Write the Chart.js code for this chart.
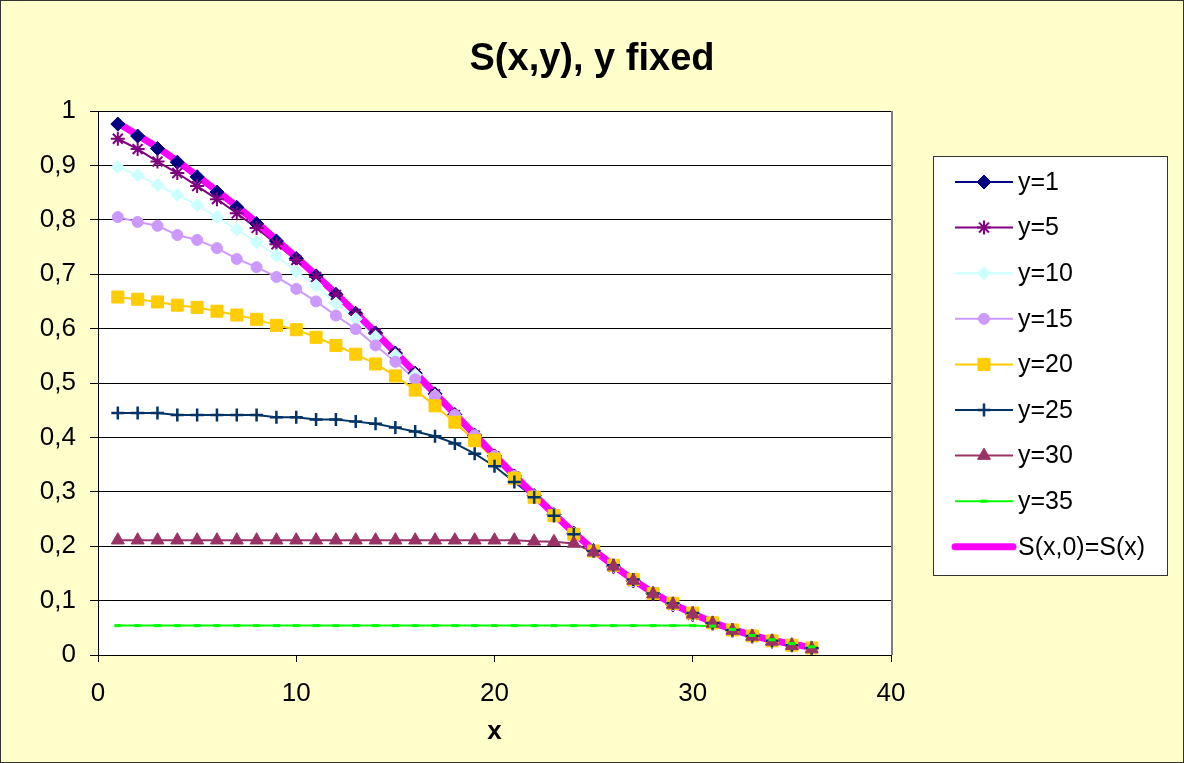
<!DOCTYPE html>
<html>
<head>
<meta charset="utf-8">
<script src="https://cdn.jsdelivr.net/npm/chart.js@4/dist/chart.umd.min.js"></script>
<style>
  html, body { margin: 0; padding: 0; background: #ffffcc; }
  canvas { display: block; }
</style>
</head>
<body>
<canvas id="sChart" width="1184" height="763"></canvas>
<script>
(function () {
  const xValues = [1, 2, 3, 4, 5, 6, 7, 8, 9, 10, 11, 12, 13, 14, 15, 16, 17, 18,
    19, 20, 21, 22, 23, 24, 25, 26, 27, 28, 29, 30, 31, 32, 33, 34, 35, 36];

  const y1 = [0.976, 0.954, 0.931, 0.906, 0.879, 0.851, 0.823, 0.793, 0.761, 0.729, 0.697, 0.663,
    0.628, 0.592, 0.555, 0.518, 0.480, 0.442, 0.404, 0.366, 0.329, 0.293, 0.258, 0.224,
    0.192, 0.163, 0.137, 0.113, 0.093, 0.075, 0.059, 0.046, 0.035, 0.026, 0.019, 0.013];
  const y5 = [0.949, 0.930, 0.907, 0.886, 0.862, 0.838, 0.812, 0.785, 0.755, 0.726, 0.695, 0.662,
    0.627, 0.591, 0.554, 0.517, 0.479, 0.441, 0.403, 0.365, 0.328, 0.292, 0.257, 0.223,
    0.191, 0.162, 0.136, 0.112, 0.092, 0.074, 0.058, 0.045, 0.034, 0.025, 0.018, 0.012];
  const y10 = [0.897, 0.882, 0.864, 0.846, 0.827, 0.805, 0.782, 0.759, 0.734, 0.705, 0.679, 0.646,
    0.618, 0.585, 0.551, 0.515, 0.477, 0.440, 0.402, 0.365, 0.328, 0.292, 0.257, 0.223,
    0.191, 0.163, 0.137, 0.113, 0.093, 0.075, 0.059, 0.046, 0.035, 0.026, 0.019, 0.013];
  const y15 = [0.805, 0.796, 0.789, 0.772, 0.763, 0.748, 0.728, 0.713, 0.695, 0.673, 0.650, 0.624,
    0.599, 0.569, 0.539, 0.507, 0.476, 0.441, 0.404, 0.366, 0.329, 0.293, 0.257, 0.223,
    0.191, 0.163, 0.137, 0.113, 0.093, 0.075, 0.059, 0.046, 0.035, 0.026, 0.019, 0.013];
  const y20 = [0.658, 0.654, 0.649, 0.643, 0.639, 0.632, 0.625, 0.617, 0.606, 0.598, 0.584, 0.569,
    0.553, 0.535, 0.513, 0.487, 0.458, 0.428, 0.394, 0.360, 0.325, 0.290, 0.256, 0.222,
    0.191, 0.165, 0.139, 0.113, 0.095, 0.077, 0.059, 0.046, 0.035, 0.026, 0.018, 0.013];
  const y25 = [0.445, 0.445, 0.445, 0.441, 0.441, 0.441, 0.441, 0.441, 0.437, 0.437, 0.433, 0.433,
    0.429, 0.425, 0.418, 0.411, 0.402, 0.389, 0.370, 0.347, 0.318, 0.290, 0.256, 0.222,
    0.191, 0.165, 0.139, 0.113, 0.095, 0.077, 0.059, 0.046, 0.035, 0.026, 0.018, 0.013];
  const y30 = [0.211, 0.211, 0.211, 0.211, 0.211, 0.211, 0.211, 0.211, 0.211, 0.211, 0.211, 0.211,
    0.211, 0.211, 0.211, 0.211, 0.211, 0.211, 0.211, 0.211, 0.211, 0.209, 0.208, 0.205,
    0.189, 0.163, 0.137, 0.112, 0.093, 0.075, 0.058, 0.045, 0.034, 0.025, 0.017, 0.011];
  const y35 = [0.054, 0.054, 0.054, 0.054, 0.054, 0.054, 0.054, 0.054, 0.054, 0.054, 0.054, 0.054,
    0.054, 0.054, 0.054, 0.054, 0.054, 0.054, 0.054, 0.054, 0.054, 0.054, 0.054, 0.054,
    0.054, 0.054, 0.054, 0.054, 0.054, 0.054, 0.053, 0.047, 0.036, 0.028, 0.021, 0.015];
  const sx = [0.978, 0.956, 0.933, 0.908, 0.881, 0.853, 0.825, 0.795, 0.763, 0.731, 0.698, 0.664,
    0.629, 0.593, 0.556, 0.519, 0.481, 0.443, 0.405, 0.367, 0.330, 0.294, 0.259, 0.225,
    0.193, 0.164, 0.138, 0.114, 0.094, 0.076, 0.060, 0.047, 0.036, 0.027, 0.020, 0.014];

  const seriesLabels = ["y=1", "y=5", "y=10", "y=15", "y=20", "y=25", "y=30", "y=35", "S(x,0)=S(x)"];
  const xTickLabels = ["0", "10", "20", "30", "40"];
  const yTickLabels = ["0", "0,1", "0,2", "0,3", "0,4", "0,5", "0,6", "0,7", "0,8", "0,9", "1"];
  const titleText = "S(x,y), y fixed";
  const xTitle = "x";

  const FONT = "'Liberation Sans', Arial, sans-serif";

  function pts(arr) {
    return xValues.map((x, i) => ({ x: x, y: arr[i] }));
  }

  // marker series, in legend order
  const markerSeries = [
    { label: seriesLabels[0], values: y1, color: "#000080", style: "rectRot", radius: 7, pw: 1 },
    { label: seriesLabels[1], values: y5, color: "#800080", style: "star", radius: 7, pw: 2 },
    { label: seriesLabels[2], values: y10, color: "#ccffff", style: "rectRot", radius: 6.5, pw: 1 },
    { label: seriesLabels[3], values: y15, color: "#cc99ff", style: "circle", radius: 5.5, pw: 1 },
    { label: seriesLabels[4], values: y20, color: "#ffcc00", style: "rect", radius: 8.5, pw: 1 },
    { label: seriesLabels[5], values: y25, color: "#003366", style: "cross", radius: 6.5, pw: 2.5 },
    { label: seriesLabels[6], values: y30, color: "#993366", style: "triangle", radius: 7.5, pw: 1 },
    { label: seriesLabels[7], values: y35, color: "#00ff00", style: "line", radius: 3.5, pw: 3 }
  ];
  const sLine = { label: seriesLabels[8], values: sx, color: "#ff00ff", width: 7 };

  // Excel-like stacking: all connecting lines first, then the thick S(x) line, then markers
  const datasets = [];
  markerSeries.forEach((s, i) => {
    datasets.push({
      label: s.label,
      data: pts(s.values),
      borderColor: s.color,
      borderWidth: 2,
      pointRadius: 0,
      tension: 0,
      order: 60 - i
    });
  });
  datasets.push({
    label: sLine.label,
    data: pts(sLine.values),
    borderColor: sLine.color,
    borderWidth: sLine.width,
    pointRadius: 0,
    tension: 0,
    order: 40
  });
  markerSeries.forEach((s, i) => {
    datasets.push({
      label: s.label + " markers",
      data: pts(s.values),
      showLine: false,
      pointStyle: s.style,
      pointRadius: s.radius,
      pointBorderWidth: s.pw,
      pointBorderColor: s.color,
      pointBackgroundColor: s.color,
      order: 10 - i
    });
  });

  // background, plot area, title, legend box, frame
  const excelLook = {
    id: "excelLook",
    beforeDraw(chart) {
      const ctx = chart.ctx;
      const a = chart.chartArea;
      ctx.save();
      ctx.fillStyle = "#ffffcc";
      ctx.fillRect(0, 0, chart.width, chart.height);
      ctx.fillStyle = "#ffffff";
      ctx.fillRect(a.left, a.top, a.right - a.left, a.bottom - a.top);
      ctx.fillStyle = "#000000";
      ctx.font = "bold 38px " + FONT;
      ctx.textAlign = "center";
      ctx.textBaseline = "alphabetic";
      ctx.fillText(titleText, chart.width / 2, 70);
      ctx.restore();
    },
    afterDraw(chart) {
      const ctx = chart.ctx;
      const a = chart.chartArea;
      ctx.save();
      // plot area right edge
      ctx.strokeStyle = "#808080";
      ctx.lineWidth = 2;
      ctx.beginPath();
      ctx.moveTo(a.right + 1, a.top);
      ctx.lineTo(a.right + 1, a.bottom);
      ctx.stroke();

      // legend
      const bx = 933.5, by = 156.5, bw = 234, bh = 419;
      ctx.fillStyle = "#ffffff";
      ctx.fillRect(bx, by, bw, bh);
      ctx.strokeStyle = "#333333";
      ctx.lineWidth = 1;
      ctx.strokeRect(bx, by, bw, bh);

      const items = markerSeries.concat([sLine]);
      items.forEach((s, i) => {
        const ry = 182 + i * 45.6;
        ctx.strokeStyle = s.color;
        ctx.lineWidth = s.width || 2;
        ctx.lineCap = s.width ? "round" : "butt";
        ctx.beginPath();
        ctx.moveTo(955, ry);
        ctx.lineTo(1013, ry);
        ctx.stroke();
        ctx.lineCap = "butt";
        if (s.style) {
          ctx.fillStyle = s.color;
          ctx.strokeStyle = s.color;
          ctx.lineWidth = s.pw;
          Chart.helpers.drawPoint(ctx, {
            pointStyle: s.style,
            radius: s.radius,
            borderWidth: s.pw,
            rotation: 0
          }, 984, ry);
        }
        ctx.fillStyle = "#000000";
        ctx.font = "25px " + FONT;
        ctx.textAlign = "left";
        ctx.textBaseline = "middle";
        ctx.fillText(s.label, 1018, ry + 1);
      });

      // outer frame
      ctx.strokeStyle = "#333333";
      ctx.lineWidth = 1;
      ctx.strokeRect(0.5, 0.5, chart.width - 1, chart.height - 1);
      ctx.restore();
    }
  };

  const canvas = document.getElementById("sChart");
  new Chart(canvas.getContext("2d"), {
    type: "line",
    data: { datasets: datasets },
    plugins: [excelLook],
    options: {
      responsive: false,
      animation: false,
      events: [],
      layout: { padding: { top: 111, right: 293, bottom: 0, left: 0 } },
      plugins: {
        legend: { display: false },
        title: { display: false },
        tooltip: { enabled: false }
      },
      scales: {
        x: {
          type: "linear",
          min: 0,
          max: 40,
          afterFit(scale) { scale.height = 108; },
          ticks: {
            stepSize: 10,
            color: "#000000",
            padding: 16,
            maxRotation: 0,
            font: { family: FONT, size: 26 },
            callback: (value, index) => xTickLabels[index]
          },
          grid: {
            drawOnChartArea: false,
            drawTicks: true,
            tickLength: 7,
            color: "#000000"
          },
          border: { color: "#000000", width: 1 },
          title: {
            display: true,
            text: xTitle,
            color: "#000000",
            font: { family: FONT, size: 26, weight: "bold" },
            padding: { top: 0, bottom: 16 }
          }
        },
        y: {
          min: 0,
          max: 1,
          afterFit(scale) { scale.width = 98; },
          ticks: {
            stepSize: 0.1,
            color: "#000000",
            padding: 14,
            font: { family: FONT, size: 26 },
            callback: (value, index) => yTickLabels[index]
          },
          grid: {
            color: "#000000",
            tickLength: 8,
            lineWidth: 1
          },
          border: { color: "#000000", width: 1 }
        }
      }
    }
  });
})();
</script>
</body>
</html>
